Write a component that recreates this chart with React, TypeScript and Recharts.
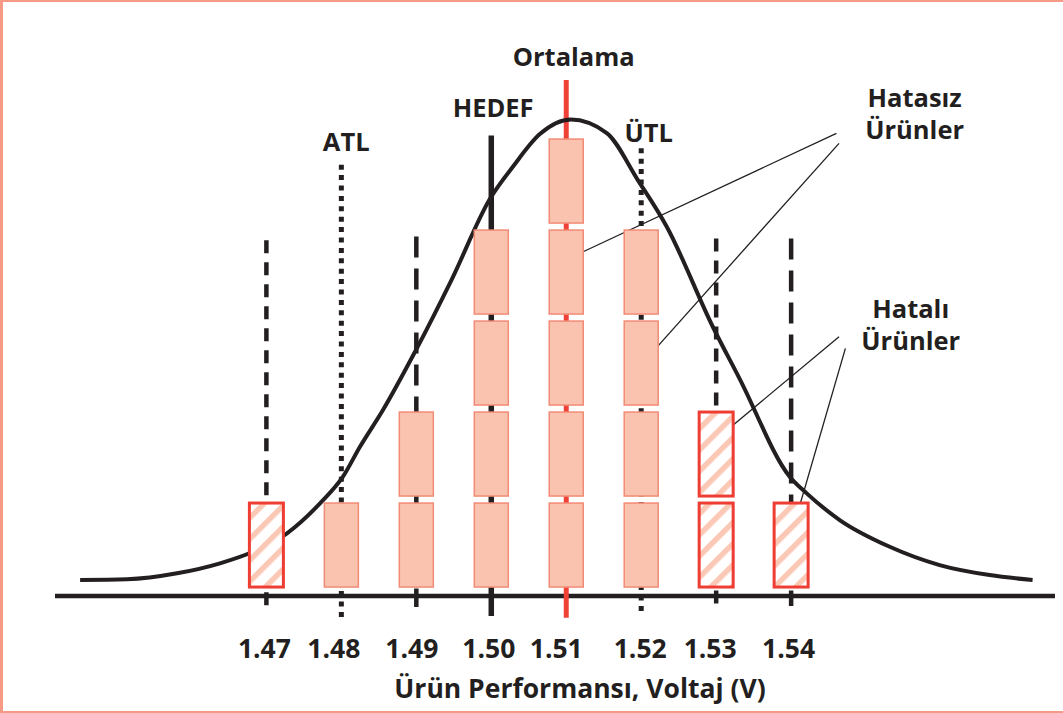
import { ComposedChart, XAxis, YAxis, Line, Scatter, ReferenceLine } from 'recharts';

// voltage classes on the x axis
const voltages = [1.47, 1.48, 1.49, 1.5, 1.51, 1.52, 1.53, 1.54];
// stacked product boxes per class
const goodCounts = [0, 1, 2, 4, 5, 4, 0, 0];
const badCounts = [1, 0, 0, 0, 0, 0, 2, 1];

// vertical marker lines (tops / bottoms in box units)
const markerNames = ['', 'ATL', '', 'HEDEF', 'Ortalama', 'ÜTL', '', ''];
const markerTops = [3.85, 4.68, 3.89, 5.0, 5.61, 4.86, 3.87, 3.87];
const markerBottoms = [-0.17, -0.34, -0.18, -0.28, -0.3, -0.27, -0.17, -0.17];
const markerKinds = ['short', 'dot', 'long', 'solid', 'mean', 'dot', 'short', 'long'];

// bell curve
const curveX = [1.44515, 1.45141, 1.45808, 1.46381, 1.46821, 1.47275, 1.47715, 1.48021, 1.48248, 1.48555,
  1.48995, 1.49475, 1.49981, 1.50288, 1.50648, 1.51061, 1.51541, 1.51955, 1.52341, 1.52955,
  1.53315, 1.53981, 1.54208, 1.54648, 1.55315, 1.55981, 1.56648, 1.57221];
const curveY = [0.115, 0.123, 0.189, 0.299, 0.426, 0.629, 0.958, 1.251, 1.58, 1.984,
  2.643, 3.423, 4.302, 4.657, 5.016, 5.176, 5.027, 4.511, 3.998, 2.899,
  2.324, 1.251, 1.068, 0.775, 0.481, 0.28, 0.17, 0.115];

// callout texts and leader lines
const calloutText = ['Ortalama', 'HEDEF', 'ATL', 'ÜTL', 'Hatasız', 'Ürünler', 'Hatalı', 'Ürünler'];
const calloutX = [1.511, 1.50025, 1.48065, 1.52101, 1.55648, 1.55648, 1.55595, 1.55595];
const calloutY = [5.764, 5.2, 4.833, 4.932, 5.31, 4.958, 2.99, 2.64];
const leaders = [
  [1.54604, 5.024, 1.51225, 3.723],
  [1.54639, 4.914, 1.52195, 2.662],
  [1.54639, 2.789, 1.52959, 1.635],
  [1.54724, 2.662, 1.53981, 0.555],
];

const curveData = curveX.map((x, i) => ({ x, y: curveY[i] }));
const boxData = voltages.flatMap((v, i) => {
  const total = goodCounts[i] + badCounts[i];
  return Array.from({ length: total }, (_, k) => ({ x: v, y: k + 0.5, bad: k < badCounts[i] }));
});
const calloutData = calloutText.map((text, i) => ({ x: calloutX[i], y: calloutY[i], text }));

const INK = '#231f20';
const FONT = '"Open Sans", "Noto Sans", sans-serif';
// the printed tick labels sit a little left of their ticks
const tickNudge = [-2, -7.5, -4.5, -2.5, -10, -1, -6, -2.5];

const lineStyle: Record<string, { stroke: string; width: number; dash?: string }> = {
  short: { stroke: INK, width: 4.5, dash: '13 9' },
  long: { stroke: INK, width: 4.5, dash: '21 11' },
  dot: { stroke: INK, width: 5, dash: '5 5.4' },
  solid: { stroke: INK, width: 5.5 },
  mean: { stroke: '#ef4136', width: 5 },
};

function ProductBox(props: any) {
  const { cx, cy, payload } = props;
  if (cx == null || cy == null) return null;
  if (payload.bad) {
    return (
      <rect x={cx - 17} y={cy - 42} width={34} height={84} fill="url(#hatch)" stroke="#ee3d33" strokeWidth={3} />
    );
  }
  return <rect x={cx - 17} y={cy - 42} width={34} height={84} fill="#f9c3af" stroke="#f28b76" strokeWidth={1.5} />;
}

function Callout(props: any) {
  const { cx, cy, payload } = props;
  if (cx == null || cy == null) return null;
  return (
    <text x={cx} y={cy} textAnchor="middle" fontFamily={FONT} fontWeight={700} fontSize={25.5} fill={INK}>
      {payload.text}
    </text>
  );
}

function VoltTick(props: any) {
  const { x, y, payload, index } = props;
  return (
    <text
      x={x + (tickNudge[index] || 0)}
      y={y}
      dy={61.5}
      textAnchor="middle"
      fontFamily={FONT}
      fontWeight={700}
      fontSize={26.5}
      fill={INK}
    >
      {Number(payload.value).toFixed(2)}
    </text>
  );
}

function AxisTitle(props: any) {
  const vb = props.viewBox || { x: 0, y: 0, width: 0 };
  return (
    <text x={vb.x + vb.width / 2 + 25} y={vb.y + 102} textAnchor="middle" fontFamily={FONT} fontWeight={700} fontSize={26.5} fill={INK}>
      Ürün Performansı, Voltaj (V)
    </text>
  );
}

export default function App() {
  return (
    <div
      style={{
        position: 'absolute',
        left: 0,
        top: 0,
        width: 1063,
        height: 713,
        background: '#fff',
        boxShadow: 'inset 3px 2px 0 #f69a85, inset 0 -2px 0 #f69a85',
      }}
    >
      <svg width={0} height={0} style={{ position: 'absolute' }}>
        <defs>
          <pattern id="hatch" patternUnits="userSpaceOnUse" width={15} height={15} patternTransform="rotate(45)">
            <rect width={15} height={15} fill="#fff" />
            <rect width={5.5} height={15} fill="#fcc8b6" />
          </pattern>
        </defs>
      </svg>
      <ComposedChart width={1063} height={713} margin={{ top: 20, right: 8, bottom: 57, left: 55 }}>
        <XAxis
          type="number"
          dataKey="x"
          domain={[1.4418, 1.5752]}
          ticks={voltages}
          interval={0}
          allowDataOverflow
          axisLine={false}
          tickLine={false}
          tickSize={0}
          tickMargin={0}
          height={60}
          tick={<VoltTick />}
          label={<AxisTitle />}
        />
        <YAxis type="number" dataKey="y" domain={[-0.06, 6.27]} allowDataOverflow hide />
        <ReferenceLine y={-0.06} stroke={INK} strokeWidth={4.5} ifOverflow="visible" />
        {voltages.map((v, i) => {
          const s = lineStyle[markerKinds[i]];
          return (
            <ReferenceLine
              key={'m' + i}
              segment={[{ x: v, y: markerTops[i] }, { x: v, y: markerBottoms[i] }]}
              stroke={s.stroke}
              strokeWidth={s.width}
              strokeDasharray={s.dash}
              ifOverflow="visible"
              name={markerNames[i]}
            />
          );
        })}
        <Scatter data={boxData} shape={<ProductBox />} isAnimationActive={false} />
        <Line
          data={curveData}
          dataKey="y"
          type="monotone"
          stroke={INK}
          strokeWidth={4}
          dot={false}
          activeDot={false}
          isAnimationActive={false}
        />
        {leaders.map((l, i) => (
          <ReferenceLine
            key={'l' + i}
            segment={[{ x: l[0], y: l[1] }, { x: l[2], y: l[3] }]}
            stroke={INK}
            strokeWidth={1.3}
            ifOverflow="visible"
          />
        ))}
        <Scatter data={calloutData} shape={<Callout />} isAnimationActive={false} />
      </ComposedChart>
    </div>
  );
}
